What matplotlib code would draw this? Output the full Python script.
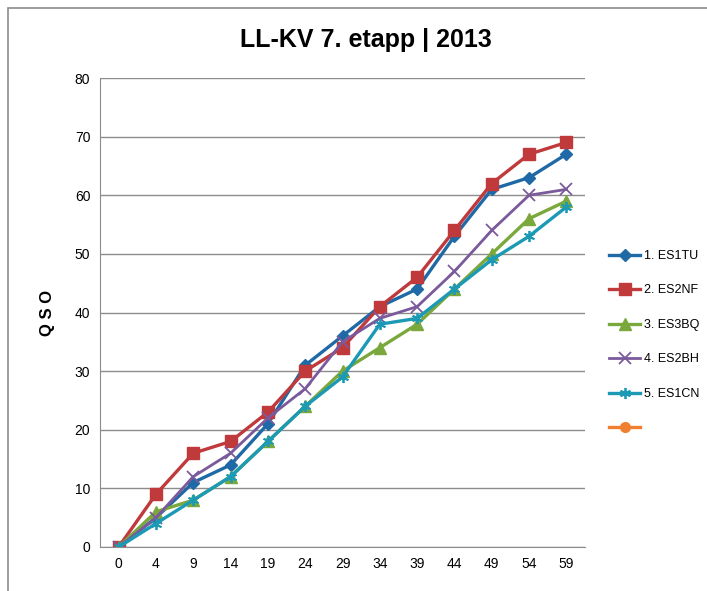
import matplotlib
matplotlib.use("Agg")
from matplotlib import pyplot as plt
from matplotlib.patches import Rectangle

plt.rcParams["font.family"] = ["Liberation Sans", "DejaVu Sans"]

# minutes into the contest
minutes = ["0", "4", "9", "14", "19", "24", "29", "34", "39", "44", "49", "54", "59"]

es1tu = [0, 5, 11, 14, 21, 31, 36, 41, 44, 53, 61, 63, 67]
es2nf = [0, 9, 16, 18, 23, 30, 34, 41, 46, 54, 62, 67, 69]
es3bq = [0, 6, 8, 12, 18, 24, 30, 34, 38, 44, 50, 56, 59]
es2bh = [0, 5, 12, 16, 22, 27, 35, 39, 41, 47, 54, 60, 61]
es1cn = [0, 4, 8, 12, 18, 24, 29, 38, 39, 44, 49, 53, 58]

names = ["1. ES1TU", "2. ES2NF", "3. ES3BQ", "4. ES2BH", "5. ES1CN", " "]
colors = ["#1f6aa6", "#c0393b", "#7aa83c", "#7b5a9c", "#1c9ab5", "#f08030"]

fig = plt.figure(figsize=(7.07, 5.91), dpi=100)
# outer chart frame (cropped on right and bottom)
fig.patches.append(Rectangle((8 / 707, -0.05), 1.1, 1.05 - 8 / 591,
                             transform=fig.transFigure, fill=False,
                             edgecolor="#8c8c8c", linewidth=1.2))

ax = fig.add_axes([100 / 707, 44 / 591, 485 / 707, 469 / 591])
x = list(range(len(minutes)))

ax.plot(x, es1tu, color=colors[0], lw=2.4, marker="D", ms=6.5, label=names[0])
ax.plot(x, es2nf, color=colors[1], lw=2.4, marker="s", ms=8.5, label=names[1])
ax.plot(x, es3bq, color=colors[2], lw=2.4, marker="^", ms=8.5, label=names[2])
ax.plot(x, es2bh, color=colors[3], lw=2.0, marker="x", ms=8, mew=1.3, label=names[3])
ax.plot(x, es1cn, color=colors[4], lw=2.4, marker=(6, 2, 0), ms=8, mew=1.3, label=names[4])
ax.plot([], [], color=colors[5], lw=2.4, marker="o", ms=7, label=names[5])

ax.set_xlim(-0.5, len(minutes) - 0.5)
ax.set_ylim(0, 80)
ax.set_xticks(x)
ax.set_xticklabels(minutes)
ax.set_yticks(range(0, 81, 10))
ax.yaxis.grid(True, color="#8c8c8c", lw=1.0)
ax.set_axisbelow(True)
for s in ["top", "right"]:
    ax.spines[s].set_visible(False)
ax.spines["left"].set_color("#8c8c8c")
ax.spines["bottom"].set_color("#8c8c8c")
ax.tick_params(length=0, labelsize=10, pad=7)

ax.set_ylabel("Q S O", fontsize=12, fontweight="bold", labelpad=14)
fig.text(366 / 707, 1 - 40 / 591, "LL-KV 7. etapp | 2013", ha="center", va="center",
         fontsize=18, fontweight="bold")

fig.legend(loc="upper left", bbox_to_anchor=(604 / 707, 1 - 245 / 591), frameon=False,
           fontsize=9, labelspacing=1.8, handlelength=2.5, handletextpad=0.3,
           borderaxespad=0, borderpad=0.4)

fig.savefig("out.png", dpi=100)
